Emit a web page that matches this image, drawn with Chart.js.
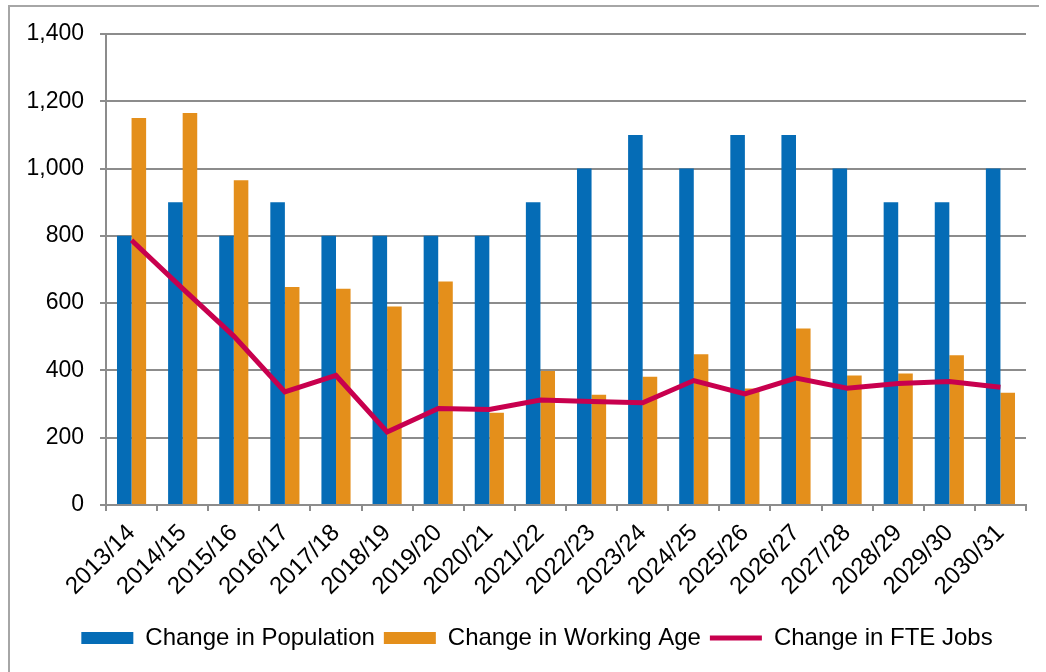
<!DOCTYPE html>
<html>
<head>
<meta charset="utf-8">
<script src="https://cdn.jsdelivr.net/npm/chart.js@4.4.0/dist/chart.umd.min.js"></script>
<style>
  html, body { margin: 0; padding: 0; background: #fff; }
  #wrap { position: relative; width: 1046px; height: 672px; overflow: hidden; }
  #frame { position: absolute; left: 8px; top: 5px; width: 1029px; height: 700px;
           border-top: 2px solid #a6a6a6; border-left: 2px solid #a6a6a6; }
  #chart { position: absolute; left: 0; top: 0; }
</style>
</head>
<body>
<div id="wrap">
  <div id="frame"></div>
  <canvas id="chart" width="1046" height="672"></canvas>
</div>
<script>
// categories + series
const years = ['2013/14', '2014/15', '2015/16', '2016/17', '2017/18', '2018/19', '2019/20', '2020/21', '2021/22',
  '2022/23', '2023/24', '2024/25', '2025/26', '2026/27', '2027/28', '2028/29', '2029/30', '2030/31'];
const population = [800, 900, 800, 900, 800, 800, 800, 800, 900, 1000, 1100, 1000, 1100, 1100, 1000, 900, 900, 1000];
const workingAge = [1150, 1165, 965, 648, 643, 590, 664, 274, 398, 328, 381, 448, 346, 525, 385, 391, 445, 334];
const fteJobs = [787, 643, 502, 336, 385, 217, 287, 284, 312, 308, 304, 370, 330, 377, 347, 361, 367, 350];

const yFont = { family: 'Liberation Sans, Arial, sans-serif', size: 23 };
const xFont = { family: 'Liberation Sans, Arial, sans-serif', size: 24 };
const legendFont = { family: 'Liberation Sans, Arial, sans-serif', size: 24 };
const gridGrey = '#8c8c8c';

// legend in the original sits a bit right of the canvas centre
const legendShift = {
  id: 'legendShift',
  afterLayout(chart) {
    chart.legend.left += 24;
    chart.legend.right += 24;
  }
};

const ctx = document.getElementById('chart').getContext('2d');
const chart = new Chart(ctx, {
  type: 'bar',
  data: {
    labels: years,
    datasets: [
      {
        label: 'Change in Population',
        data: population,
        backgroundColor: '#056cb6',
        pointStyle: 'rect',
        categoryPercentage: 0.57,
        barPercentage: 1.0
      },
      {
        label: 'Change in Working Age',
        data: workingAge,
        backgroundColor: '#e48f1b',
        pointStyle: 'rect',
        categoryPercentage: 0.57,
        barPercentage: 1.0
      },
      {
        type: 'line',
        label: 'Change in FTE Jobs',
        data: fteJobs,
        borderColor: '#c8004e',
        backgroundColor: '#c8004e',
        borderWidth: 5,
        pointRadius: 0,
        pointStyle: 'line',
        tension: 0,
        order: -1   // keep the line above the bars
      }
    ]
  },
  plugins: [legendShift],
  options: {
    responsive: false,
    animation: false,
    devicePixelRatio: 1,
    layout: { padding: { left: 0, right: 20, top: 34, bottom: 12 } },
    plugins: {
      tooltip: { enabled: false },
      legend: {
        position: 'bottom',
        labels: {
          font: legendFont,
          color: '#000',
          usePointStyle: true,
          pointStyleWidth: 52,
          boxHeight: 12,
          padding: 9,
          sort: (a, b) => a.datasetIndex - b.datasetIndex
        }
      }
    },
    scales: {
      x: {
        offset: true,
        grid: { display: true, drawOnChartArea: false, drawTicks: true, tickLength: 6, color: gridGrey, lineWidth: 2 },
        border: { color: gridGrey, width: 2 },
        ticks: { font: xFont, color: '#000', minRotation: 45, maxRotation: 45, autoSkip: false, padding: 8 },
        afterFit: function(scale) { scale.height = 112; }
      },
      y: {
        min: 0,
        max: 1400,
        grid: { color: gridGrey, lineWidth: 2, tickLength: 6 },
        border: { color: gridGrey, width: 2 },
        ticks: {
          stepSize: 200,
          font: yFont,
          color: '#000',
          padding: 16,
          callback: v => v.toLocaleString('en-US')
        },
        afterFit: function(scale) { scale.width = 106; }
      }
    }
  }
});
</script>
</body>
</html>
